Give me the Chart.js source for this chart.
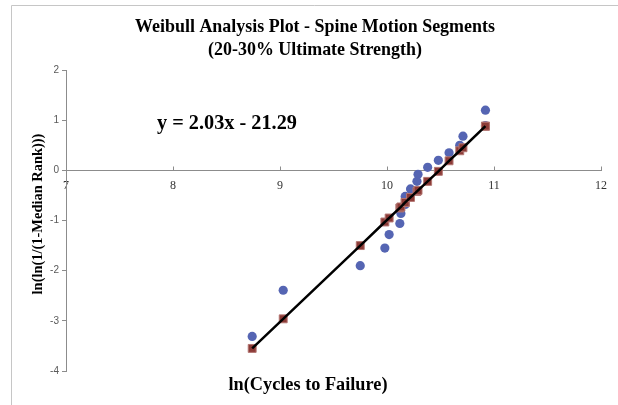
<!DOCTYPE html>
<html><head><meta charset="utf-8">
<script src="https://cdn.jsdelivr.net/npm/chart.js@4.4.1/dist/chart.umd.min.js"></script>
<style>html,body{margin:0;padding:0;background:#fff;overflow:hidden}canvas{display:block}</style>
</head><body>
<canvas id="c" width="618" height="405"></canvas>
<script>
// ---- data ----
const lnCycles = [8.74, 9.03, 9.75, 9.98, 10.02, 10.12, 10.13, 10.17, 10.17, 10.22, 10.28, 10.29, 10.38, 10.48, 10.58, 10.68, 10.71, 10.92, 10.92];
const medianRankY = [-3.31, -2.39, -1.90, -1.55, -1.28, -1.06, -0.86, -0.68, -0.52, -0.37, -0.22, -0.08, 0.06, 0.20, 0.35, 0.50, 0.68, 0.89, 1.20];
const fittedY = [-3.55, -2.96, -1.50, -1.03, -0.95, -0.75, -0.73, -0.64, -0.64, -0.54, -0.42, -0.40, -0.22, -0.02, 0.19, 0.39, 0.45, 0.88, 0.88];
const xTicks = [7, 8, 9, 10, 11, 12];
const yTicks = [-4, -3, -2, -1, 0, 1, 2];
const titleLines = ['Weibull Analysis Plot - Spine Motion Segments', '(20-30% Ultimate Strength)'];
const xAxisTitle = 'ln(Cycles to Failure)';
const yAxisTitle = 'ln(ln(1/(1-Median Rank)))';
const equationText = 'y = 2.03x - 21.29';

const SERIF = "'Liberation Serif', 'DejaVu Serif', serif";
const SANS = "'Liberation Sans', Arial, sans-serif";

function fitSize(ctx, text, target, base) {
  ctx.font = 'bold ' + base + 'px ' + SERIF;
  const w = ctx.measureText(text).width;
  return base * target / w;
}

const decor = {
  id: 'decor',
  beforeDraw(chart) {
    const ctx = chart.ctx;
    ctx.save();
    ctx.strokeStyle = '#c6c6c6';
    ctx.lineWidth = 1;
    ctx.beginPath();
    ctx.moveTo(11.5, 405); ctx.lineTo(11.5, 5.5); ctx.lineTo(618, 5.5);
    ctx.stroke();
    ctx.restore();
  },
  afterDraw(chart) {
    const ctx = chart.ctx;
    const xs = chart.scales.x, ys = chart.scales.y;
    ctx.save();
    // upward tick marks on the x axis
    ctx.strokeStyle = '#8c8c8c';
    ctx.lineWidth = 1;
    const y0 = Math.round(ys.getPixelForValue(0)) + 0.5;
    xTicks.slice(1).forEach(t => {
      const px = Math.round(xs.getPixelForValue(t)) + 0.5;
      ctx.beginPath(); ctx.moveTo(px, y0); ctx.lineTo(px, y0 - 4); ctx.stroke();
    });
    ctx.fillStyle = '#000';
    ctx.textAlign = 'center';
    ctx.textBaseline = 'middle';
    // title
    const ts = fitSize(ctx, titleLines[0], 360, 18);
    ctx.font = 'bold ' + ts + 'px ' + SERIF;
    ctx.fillText(titleLines[0], 315, 27);
    ctx.fillText(titleLines[1], 315, 50);
    // equation
    const es = fitSize(ctx, equationText, 140, 19);
    ctx.font = 'bold ' + es + 'px ' + SERIF;
    ctx.fillText(equationText, 227, 124);
    // x axis title
    const xs2 = fitSize(ctx, xAxisTitle, 159, 16);
    ctx.font = 'bold ' + xs2 + 'px ' + SERIF;
    ctx.fillText(xAxisTitle, 308, 385);
    // y axis title
    const ys2 = fitSize(ctx, yAxisTitle, 161, 15);
    ctx.font = 'bold ' + ys2 + 'px ' + SERIF;
    ctx.translate(38, 214);
    ctx.rotate(-Math.PI / 2);
    ctx.fillText(yAxisTitle, 0, 0);
    ctx.restore();
  }
};

new Chart(document.getElementById('c'), {
  type: 'scatter',
  data: {
    datasets: [
      {
        label: 'Fit line',
        type: 'line',
        data: lnCycles.map((x, i) => ({x: x, y: fittedY[i]})),
        borderColor: '#000000',
        borderWidth: 2.5,
        pointRadius: 0,
        fill: false,
        showLine: true,
        order: 0
      },
      {
        label: 'Fitted',
        data: lnCycles.map((x, i) => ({x: x, y: fittedY[i]})),
        pointStyle: 'rect',
        pointRadius: 5.6,
        backgroundColor: '#8C3B37',
        borderColor: '#B37672',
        borderWidth: 1,
        order: 1
      },
      {
        label: 'Data',
        data: lnCycles.map((x, i) => ({x: x, y: medianRankY[i]})),
        pointStyle: 'circle',
        pointRadius: 4.6,
        backgroundColor: '#5565B3',
        borderColor: '#5565B3',
        borderWidth: 0,
        order: 2
      }
    ]
  },
  options: {
    responsive: false,
    animation: false,
    layout: {padding: {left: 0, right: 17, top: 70, bottom: 34}},
    plugins: {legend: {display: false}, tooltip: {enabled: false}, title: {display: false}},
    scales: {
      x: {
        type: 'linear',
        position: {y: 0},
        min: 7, max: 12,
        afterBuildTicks: s => { s.ticks = xTicks.map(v => ({value: v})); },
        ticks: {font: {family: SERIF, size: 12}, color: '#333333', padding: 8},
        grid: {display: true, drawOnChartArea: false, drawTicks: false},
        border: {display: true, color: '#8c8c8c', width: 1}
      },
      y: {
        type: 'linear',
        position: 'left',
        min: -4, max: 2,
        afterBuildTicks: s => { s.ticks = yTicks.map(v => ({value: v})); },
        afterFit: s => { s.width = 66; },
        ticks: {font: {family: SANS, size: 10}, color: '#595959', padding: 3},
        grid: {display: true, drawOnChartArea: false, drawTicks: true, tickLength: 4, color: '#8c8c8c'},
        border: {display: true, color: '#8c8c8c', width: 1}
      }
    }
  },
  plugins: [decor]
});
</script>
</body></html>
